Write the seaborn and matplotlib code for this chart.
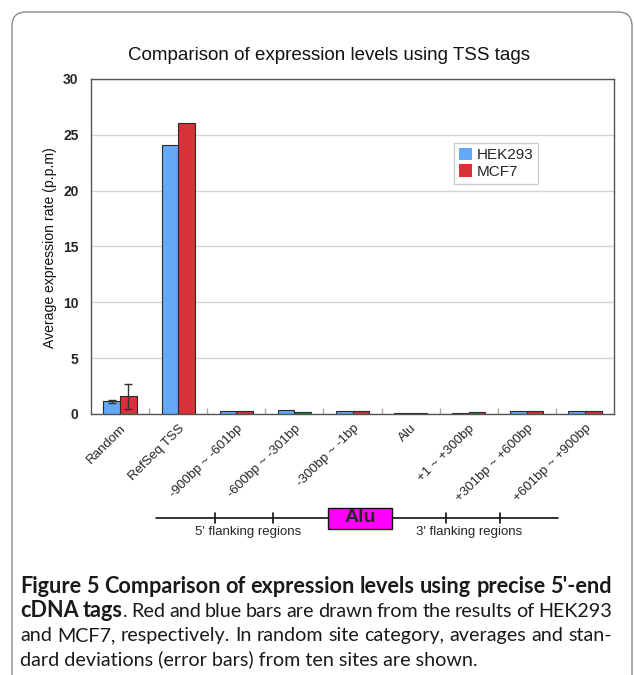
import numpy as np
import pandas as pd
import matplotlib
matplotlib.use("Agg")
import matplotlib.pyplot as plt
import seaborn as sns
from matplotlib.patches import FancyBboxPatch, Rectangle
from matplotlib.lines import Line2D
from matplotlib.transforms import IdentityTransform

# ---------------- data ----------------
categories = ["Random", "RefSeq TSS", "-900bp ~ -601bp", "-600bp ~ -301bp",
              "-300bp ~ -1bp", "Alu", "+1 ~ +300bp", "+301bp ~ +600bp",
              "+601bp ~ +900bp"]
series = ["HEK293", "MCF7"]
hek293 = [1.14, 24.1, 0.30, 0.32, 0.25, 0.05, 0.08, 0.25, 0.30]
mcf7 = [1.58, 26.1, 0.30, 0.22, 0.25, 0.05, 0.15, 0.25, 0.25]
hek293_sd = [0.15, 0, 0, 0, 0, 0, 0, 0, 0]
mcf7_sd = [1.13, 0, 0, 0, 0, 0, 0, 0, 0]
yticks = [0, 5, 10, 15, 20, 25, 30]
colors = ["#63a9f5", "#d8313a"]

title = "Comparison of expression levels using TSS tags"
ylabel = "Average expression rate (p.p.m)"

# ---------------- style ----------------
sns.set_theme(style="white")
plt.rcParams["font.family"] = ["Liberation Sans", "DejaVu Sans"]

W, H = 634, 675
fig = plt.figure(figsize=(W / 100, H / 100), dpi=100)
fig.patch.set_facecolor("white")


def fx(x):
    return x / W


def fy(y):
    return 1 - y / H


ax = fig.add_axes([fx(91), fy(414), (614 - 91) / W, (414 - 79) / H])

df = pd.DataFrame({
    "category": categories * 2,
    "line": [series[0]] * len(categories) + [series[1]] * len(categories),
    "value": hek293 + mcf7,
})
sns.barplot(data=df, x="category", y="value", hue="line", order=categories,
            hue_order=series, palette=colors, saturation=1, width=0.57,
            edgecolor="#2a2a2a", linewidth=0.8, errorbar=None, ax=ax)

# error bars
for cont, sds, vals in zip(ax.containers, [hek293_sd, mcf7_sd], [hek293, mcf7]):
    for bar, sd, v in zip(cont.patches, sds, vals):
        if sd > 0:
            ax.errorbar(bar.get_x() + bar.get_width() / 2, v, yerr=sd,
                        color="#333333", capsize=3, elinewidth=1, capthick=1,
                        zorder=5)

ax.set_ylim(0, 30)
ax.set_xlim(-0.5, len(categories) - 0.5)
ax.set_yticks(yticks)
ax.set_yticklabels([str(t) for t in yticks], fontsize=10, fontweight="bold")
ax.yaxis.grid(True, color="#d4d4d4", lw=1)
ax.set_axisbelow(True)
for s in ax.spines.values():
    s.set_color("#555555")
    s.set_linewidth(1)
ax.tick_params(axis="y", length=0, pad=9)
ax.set_xticks(range(len(categories)))
ax.set_xticklabels(categories, rotation=45, ha="right", rotation_mode="anchor",
                   fontsize=9.5)
ax.tick_params(axis="x", length=0, pad=6)
ax.set_xticks(np.arange(0.5, len(categories) - 0.5, 1), minor=True)
ax.tick_params(axis="x", which="minor", direction="in", length=4,
               color="#aaaaaa", width=1, bottom=True)
ax.set_xlabel("")
ax.set_ylabel("")

# legend
handles, labels = ax.get_legend_handles_labels()
ax.legend(handles, labels, loc="upper left", bbox_to_anchor=(fx(454), fy(143)),
          bbox_transform=fig.transFigure, fontsize=11, frameon=True,
          fancybox=False, edgecolor="#cccccc", framealpha=1,
          handlelength=0.9, handleheight=0.9, handletextpad=0.3,
          labelspacing=0.15, borderpad=0.3, borderaxespad=0)
for h in ax.get_legend().legend_handles:
    h.set_edgecolor("none")

fig.canvas.draw()
renderer = fig.canvas.get_renderer()


def fit_size(text, target_w, base=10, **kw):
    t = fig.text(0, 0, text, fontsize=base, **kw)
    w = t.get_window_extent(renderer).width
    t.remove()
    return base * target_w / w


# title
ts = fit_size(title, 405)
fig.text(fx(329.5), fy(55), title, fontsize=ts, ha="center", va="center",
         color="#111111")
# y label
ys = fit_size(ylabel, 200)
fig.text(fx(50), fy(248), ylabel, fontsize=ys, rotation=90, ha="center",
         va="center", color="#111111")

# gene diagram below axis
ln = "#111111"
fig.add_artist(Line2D([fx(156), fx(558)], [fy(518), fy(518)], color=ln, lw=1.2))
for tx in [215, 273, 446, 500]:
    fig.add_artist(Line2D([fx(tx), fx(tx)], [fy(513), fy(523)], color=ln, lw=1.2))
fig.add_artist(Rectangle((fx(328), fy(529)), (392 - 328) / W, (529 - 508) / H,
                         transform=fig.transFigure, facecolor="#ff00ff",
                         edgecolor="#111111", lw=1, zorder=3))
fig.text(fx(360), fy(518), "Alu", fontsize=14, fontweight="bold", ha="center",
         va="center", zorder=4)
fig.text(fx(248), fy(532), "5' flanking regions", fontsize=9.5, ha="center",
         va="center")
fig.text(fx(469), fy(532), "3' flanking regions", fontsize=9.5, ha="center",
         va="center")

# rounded frame
frame = FancyBboxPatch((12, -40), 620, H - 12 + 40, boxstyle="round,pad=0,rounding_size=14",
                       transform=IdentityTransform(), facecolor="none",
                       edgecolor="#8a8a8a", lw=1)
fig.add_artist(frame)

# caption
cap_font = ["Lato", "DejaVu Sans"]
line1 = "Figure 5 Comparison of expression levels using precise 5'-end"
line2_rest = "Red and blue bars are drawn from the results of HEK293"
line3 = "and MCF7, respectively. In random site category, averages and stan-"
line4 = "dard deviations (error bars) from ten sites are shown."
x0, x1 = 20, 612
bold_size = fit_size(line1, x1 - x0, family=cap_font, fontweight="bold")
reg_size = min(bold_size, fit_size(line3, x1 - x0, family=cap_font))

lines = [
    ([[(w, "bold")] for w in line1.split()], 593),
    ([[("cDNA", "bold")], [("tags", "bold"), (".", "normal")]] +
     [[(w, "normal")] for w in line2_rest.split()], 617),
    ([[(w, "normal")] for w in line3.split()], 641),
]
for words, ypix in lines:
    objs = []
    widths = []
    for word in words:
        segs = []
        wsum = 0
        for txt, wt in word:
            size = bold_size if wt == "bold" else reg_size
            t = fig.text(0, fy(ypix), txt, fontsize=size, fontweight=wt,
                         family=cap_font, ha="left", va="baseline", color="#1a1a1a")
            segs.append(t)
            wsum += t.get_window_extent(renderer).width
        objs.append(segs)
        widths.append(wsum)
    gap = (x1 - x0 - sum(widths)) / (len(words) - 1)
    x = x0
    for segs in objs:
        for t in segs:
            t.set_x(fx(x))
            x += t.get_window_extent(renderer).width
        x += gap

fig.text(fx(x0), fy(665), line4, fontsize=reg_size, family=cap_font,
         ha="left", va="baseline", color="#1a1a1a")

fig.savefig("out.png", dpi=100, facecolor="white")
